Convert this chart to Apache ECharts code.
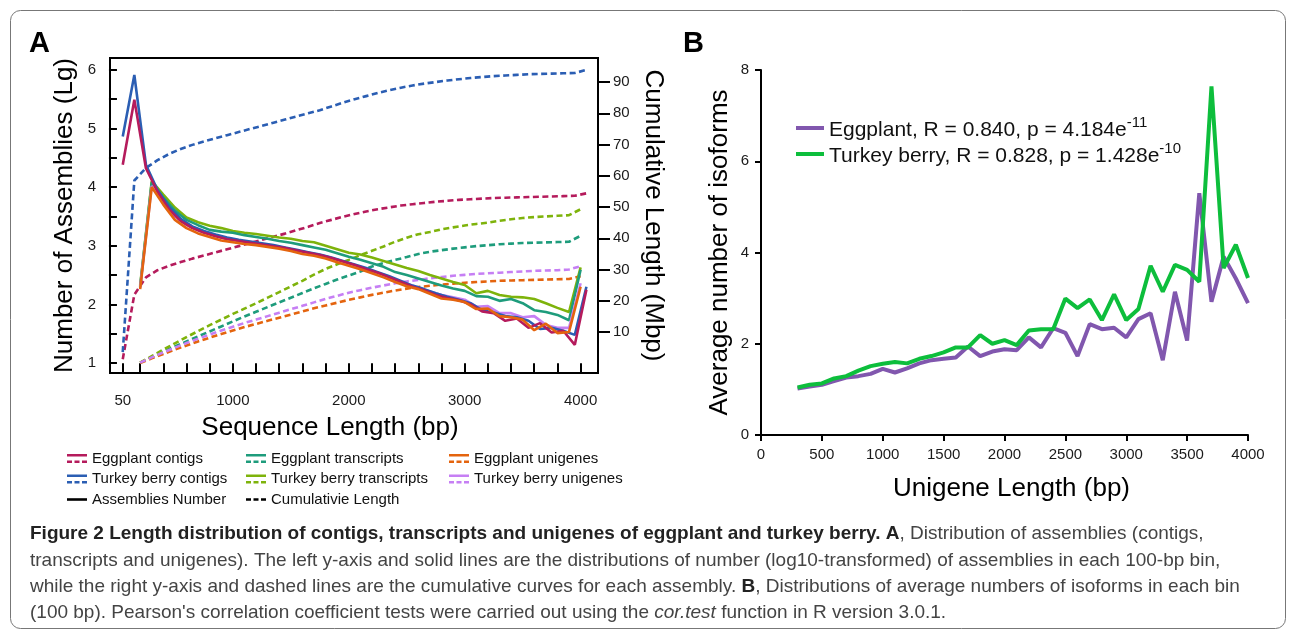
<!DOCTYPE html>
<html><head><meta charset="utf-8">
<script src="https://cdn.jsdelivr.net/npm/echarts@6/dist/echarts.min.js"></script>
<style>html,body{margin:0;padding:0;background:#fff}#c{width:1290px;height:634px}</style>
</head><body><div id="c"></div>
<script>
// ---------- Panel A data ----------
const contigX = [50,150,250,350,450,550,650,750,850,950,1050,1150,1250,1350,1450,1550,1650,1750,1850,1950,2050,2150,2250,2350,2450,2550,2650,2750,2850,2950,3050,3150,3250,3350,3450,3550,3650,3750,3850,3950,4050];
const assemblyX = [200,300,400,500,600,700,800,900,1000,1100,1200,1300,1400,1500,1600,1700,1800,1900,2000,2100,2200,2300,2400,2500,2600,2700,2800,2900,3000,3100,3200,3300,3400,3500,3600,3700,3800,3900,4000];

// log10 number of assemblies per bin (left axis)
const eggContigsN = [4.38,5.49,4.32,3.92,3.62,3.42,3.30,3.22,3.16,3.11,3.08,3.05,3.02,2.99,2.96,2.92,2.88,2.84,2.79,2.73,2.67,2.60,2.54,2.46,2.38,2.30,2.24,2.16,2.11,2.07,2.00,1.88,1.85,1.72,1.76,1.60,1.68,1.52,1.55,1.31,2.25];
const tbContigsN  = [4.86,5.91,4.38,3.95,3.66,3.46,3.33,3.25,3.19,3.14,3.10,3.07,3.04,3.01,2.97,2.93,2.89,2.85,2.80,2.74,2.68,2.62,2.55,2.48,2.40,2.32,2.26,2.19,2.13,2.08,2.02,1.90,1.86,1.80,1.78,1.72,1.58,1.60,1.55,1.48,2.30];
const eggTransN   = [2.30,4.08,3.82,3.60,3.44,3.35,3.27,3.24,3.22,3.18,3.15,3.12,3.08,3.05,3.01,2.97,2.93,2.87,2.81,2.76,2.70,2.64,2.55,2.50,2.44,2.38,2.32,2.27,2.23,2.14,2.13,2.06,2.09,2.02,1.90,1.87,1.82,1.73,2.59];
const tbTransN    = [2.32,4.10,3.87,3.65,3.48,3.40,3.34,3.30,3.25,3.22,3.20,3.17,3.14,3.12,3.08,3.06,3.00,2.94,2.88,2.85,2.80,2.74,2.68,2.62,2.57,2.50,2.44,2.38,2.33,2.19,2.23,2.16,2.13,2.12,2.09,2.02,1.94,1.87,2.63];
const eggUniN     = [2.26,4.00,3.70,3.44,3.30,3.21,3.15,3.09,3.06,3.03,3.01,2.98,2.95,2.91,2.86,2.83,2.78,2.72,2.66,2.60,2.53,2.46,2.38,2.31,2.26,2.18,2.10,2.08,2.04,1.92,1.93,1.80,1.78,1.74,1.56,1.67,1.51,1.53,2.30];
const tbUniN      = [2.28,4.02,3.74,3.50,3.36,3.27,3.21,3.15,3.11,3.07,3.04,3.01,2.98,2.94,2.90,2.86,2.82,2.76,2.70,2.64,2.56,2.51,2.42,2.35,2.28,2.22,2.16,2.12,2.08,1.96,1.97,1.85,1.85,1.78,1.80,1.65,1.60,1.60,2.36];

// cumulative length, Mbp (right axis)
const eggContigsCum = [1.3,22.0,27.5,29.8,31.2,32.4,33.5,34.5,35.5,36.5,37.5,38.5,39.5,40.5,41.5,42.6,43.7,44.9,45.9,46.9,47.8,48.6,49.3,49.9,50.5,50.9,51.3,51.7,52.0,52.3,52.5,52.7,52.9,53.0,53.1,53.2,53.3,53.4,53.5,53.6,54.4];
const tbContigsCum  = [3.6,58.5,62.5,65.0,67.0,68.6,69.9,71.0,72.0,73.0,74.0,75.0,76.0,77.0,78.0,79.0,80.0,81.0,82.2,83.4,84.5,85.5,86.5,87.4,88.2,88.9,89.5,90.0,90.5,90.9,91.3,91.6,91.9,92.1,92.3,92.5,92.6,92.7,92.8,92.9,93.9];
const eggTransCum   = [0.2,2.0,3.7,5.4,7.0,8.6,10.2,11.8,13.4,15.0,16.5,18.0,19.5,21.0,22.5,24.0,25.4,26.8,28.1,29.4,31.0,32.1,33.1,34.0,35.0,35.7,36.2,36.7,37.1,37.5,37.8,38.1,38.3,38.5,38.6,38.7,38.8,38.9,40.8];
const tbTransCum    = [0.2,2.3,4.4,6.4,8.4,10.3,12.2,14.0,15.8,17.5,19.2,21.0,22.8,24.6,26.4,28.4,30.2,31.7,33.1,34.6,36.0,37.4,38.9,40.2,41.3,42.0,42.9,43.5,44.1,44.6,45.0,45.6,46.1,46.5,46.8,47.0,47.2,47.4,49.3];
const eggUniCum     = [0.1,1.6,3.0,4.4,5.7,7.0,8.2,9.4,10.5,11.6,12.6,13.6,14.6,15.6,16.6,17.6,18.5,19.4,20.3,21.1,21.9,22.6,23.3,23.9,24.4,24.8,25.2,25.5,25.8,26.0,26.2,26.4,26.5,26.6,26.7,26.8,26.9,27.0,27.9];
const tbUniCum      = [0.2,1.9,3.5,5.0,6.5,7.9,9.2,10.5,11.7,12.9,14.0,15.1,16.2,17.3,18.4,19.5,20.6,21.6,22.6,23.4,24.2,24.9,25.6,26.2,26.7,27.2,27.6,28.0,28.3,28.6,28.8,29.0,29.2,29.4,29.6,29.7,29.8,30.0,31.1];

const xTicksA  = [50,200,400,600,800,1000,1200,1400,1600,1800,2000,2200,2400,2600,2800,3000,3200,3400,3600,3800,4000];
const xLabelsA = [50,1000,2000,3000,4000];
const yTicksA  = [1,1.5,2,2.5,3,3.5,4,4.5,5,5.5,6];
const yLabelsA = [1,2,3,4,5,6];
const y2LabelsA = [10,20,30,40,50,60,70,80,90];

// ---------- Panel B data ----------
const isoX = [300,400,500,600,700,800,900,1000,1100,1200,1300,1400,1500,1600,1700,1800,1900,2000,2100,2200,2300,2400,2500,2600,2700,2800,2900,3000,3100,3200,3300,3400,3500,3600,3700,3800,3900,4000];
const eggIso = [1.02,1.06,1.10,1.18,1.26,1.29,1.34,1.45,1.37,1.46,1.57,1.64,1.67,1.70,1.94,1.73,1.83,1.88,1.86,2.14,1.92,2.34,2.24,1.73,2.43,2.32,2.35,2.14,2.54,2.67,1.64,3.14,2.07,5.30,2.92,3.91,3.43,2.89];
const tbIso  = [1.04,1.10,1.13,1.24,1.29,1.41,1.51,1.56,1.60,1.57,1.67,1.73,1.81,1.92,1.92,2.19,2.00,2.08,1.97,2.29,2.32,2.32,2.99,2.78,2.97,2.52,3.08,2.52,2.76,3.71,3.14,3.73,3.62,3.36,7.64,3.66,4.17,3.44];
const isoNames = ['Eggplant','Turkey berry'];
const isoR = ['0.840','0.828'];
const isoPBase = ['4.184','1.428'];
const isoPExp = ['-11','-10'];

// ---------- styling ----------
const FONT = "'Liberation Sans', Arial, sans-serif";
const COL = {
  eggContigs:'#B51B5C', tbContigs:'#2B5EB3', eggTrans:'#1E9C7C',
  tbTrans:'#7EB30B', eggUni:'#E4640E', tbUni:'#C67FF4'
};
const pair = (xs, ys) => xs.map((x, i) => [x, ys[i]]);
const plain = v => String(v);

const groupsA = [
  {name:'Eggplant contigs', c:COL.eggContigs, x:contigX, n:eggContigsN, cum:eggContigsCum},
  {name:'Turkey berry contigs', c:COL.tbContigs, x:contigX, n:tbContigsN, cum:tbContigsCum},
  {name:'Eggplant transcripts', c:COL.eggTrans, x:assemblyX, n:eggTransN, cum:eggTransCum},
  {name:'Turkey berry transcripts', c:COL.tbTrans, x:assemblyX, n:tbTransN, cum:tbTransCum},
  {name:'Eggplant unigenes', c:COL.eggUni, x:assemblyX, n:eggUniN, cum:eggUniCum},
  {name:'Turkey berry unigenes', c:COL.tbUni, x:assemblyX, n:tbUniN, cum:tbUniCum}
];
const solidOrder = ['Turkey berry transcripts','Eggplant transcripts','Turkey berry unigenes','Turkey berry contigs','Eggplant contigs','Eggplant unigenes'];

const series = [];
// Dashed cumulative curves (right axis)
groupsA.forEach(g => series.push({
  type:'line', name:g.name, xAxisIndex:0, yAxisIndex:1, data:pair(g.x, g.cum),
  showSymbol:false, symbol:'none', color:g.c, z:2,
  lineStyle:{width:2.6, type:[6,3.5], color:g.c}
}));
// Solid count curves (left axis)
solidOrder.forEach(nm => {
  const g = groupsA.find(d => d.name === nm);
  series.push({
    type:'line', name:g.name, xAxisIndex:0, yAxisIndex:0, data:pair(g.x, g.n),
    showSymbol:false, symbol:'none', color:g.c, z:3,
    lineStyle:{width:2.6, color:g.c}
  });
});
// legend-only keys
series.push({type:'line', name:'Assemblies Number', xAxisIndex:0, yAxisIndex:0, data:[], color:'#000', symbol:'none'});
series.push({type:'line', name:'Cumulativie Length', xAxisIndex:0, yAxisIndex:1, data:[], color:'#000', symbol:'none', lineStyle:{type:'dashed'}});

// Panel B
const isoColors = ['#8157AE','#0DBE3C'];
[eggIso, tbIso].forEach((vals, i) => series.push({
  type:'line', name:isoNames[i], xAxisIndex:1, yAxisIndex:2, data:pair(isoX, vals),
  showSymbol:false, symbol:'none', color:isoColors[i], z:3 + i,
  lineStyle:{width:4, color:isoColors[i]}
}));

const ICON_BOTH = 'path://M0,0H20V2.6H0Z M0,6.4H5V9H0Z M7.5,6.4H12.5V9H7.5Z M15,6.4H20V9H15Z';
const ICON_SOLID = 'path://M0,0M20,9M0,3.2H20V5.8H0Z';
const ICON_DASH = 'path://M0,0M20,9M0,3.2H5V5.8H0Z M7.5,3.2H12.5V5.8H7.5Z M15,3.2H20V5.8H15Z';

const legendA = (left, names) => ({
  orient:'vertical', left:left, top:446, itemWidth:20, itemHeight:9, itemGap:5.5,
  selectedMode:false, itemStyle:{borderWidth:0},
  textStyle:{fontFamily:FONT, fontSize:15, color:'#111'},
  data:names.map(n => ({name:n, icon: n === 'Assemblies Number' ? ICON_SOLID : (n === 'Cumulativie Length' ? ICON_DASH : ICON_BOTH)}))
});

const axisTxt = {fontFamily:FONT, fontSize:15, color:'#1a1a1a'};
const nameTxt = {fontFamily:FONT, fontSize:26, color:'#000'};

const caption = [
  '{b|Figure 2 Length distribution of contigs, transcripts and unigenes of eggplant and turkey berry. A}{r|, Distribution of assemblies (contigs,}',
  '{r|transcripts and unigenes). The left y-axis and solid lines are the distributions of number (log10-transformed) of assemblies in each 100-bp bin,}',
  '{r|while the right y-axis and dashed lines are the cumulative curves for each assembly. }{b|B}{r|, Distributions of average numbers of isoforms in each bin}',
  "{r|(100 bp). Pearson's correlation coefficient tests were carried out using the }{i|cor.test}{r| function in R version 3.0.1.}"
];
const CAPFONT = "'Liberation Sans', sans-serif";
const capRich = {
  b:{fontFamily:CAPFONT, fontSize:19, fontWeight:'bold', fill:'#222', color:'#222'},
  r:{fontFamily:CAPFONT, fontSize:19, fill:'#444', color:'#444'},
  i:{fontFamily:CAPFONT, fontSize:19, fontStyle:'italic', fill:'#444', color:'#444'}
};

const option = {
  animation:false,
  backgroundColor:'#fff',
  textStyle:{fontFamily:FONT},
  grid:[
    {left:110, top:58, width:488, height:315, show:true, borderColor:'#000', borderWidth:2, backgroundColor:'transparent'},
    {left:761, top:70, width:487, height:365}
  ],
  xAxis:[
    {gridIndex:0, type:'value', min:-60, max:4150,
     axisLine:{show:false}, splitLine:{show:false},
     axisTick:{show:true, customValues:xTicksA, length:9, lineStyle:{color:'#000', width:2}},
     axisLabel:{customValues:xLabelsA, margin:20, formatter:plain, ...axisTxt},
     name:'Sequence Length (bp)', nameLocation:'middle', nameGap:42,
     nameTextStyle:{...nameTxt, padding:[0,48,0,0]}},
    {gridIndex:1, type:'value', min:0, max:4000, interval:500,
     axisLine:{show:true, lineStyle:{color:'#000', width:2}}, splitLine:{show:false},
     axisTick:{show:true, length:6, lineStyle:{color:'#000', width:2}},
     axisLabel:{margin:12, formatter:plain, ...axisTxt},
     name:'Unigene Length (bp)', nameLocation:'middle', nameGap:41,
     nameTextStyle:{...nameTxt, padding:[0,0,0,14]}}
  ],
  yAxis:[
    {gridIndex:0, type:'value', min:0.83, max:6.2, position:'left',
     axisLine:{show:false}, splitLine:{show:false},
     axisTick:{show:true, customValues:yTicksA, length:8, lineStyle:{color:'#000', width:2}},
     axisLabel:{customValues:yLabelsA, margin:14, formatter:plain, ...axisTxt},
     name:'Number of Assemblies (Lg)', nameLocation:'middle', nameGap:32, nameRotate:90,
     nameTextStyle:nameTxt},
    {gridIndex:0, type:'value', min:-3.1, max:97.7, position:'right',
     axisLine:{show:false}, splitLine:{show:false},
     axisTick:{show:true, customValues:y2LabelsA, length:12, lineStyle:{color:'#000', width:2}},
     axisLabel:{customValues:y2LabelsA, margin:15, formatter:plain, ...axisTxt},
     name:'Cumulative Length (Mbp)', nameLocation:'middle', nameGap:42, nameRotate:-90,
     nameTextStyle:nameTxt},
    {gridIndex:1, type:'value', min:0, max:8, interval:2,
     axisLine:{show:true, lineStyle:{color:'#000', width:2}}, splitLine:{show:false},
     axisTick:{show:true, length:6, lineStyle:{color:'#000', width:2}},
     axisLabel:{margin:12, formatter:plain, ...axisTxt},
     name:'Average number of isoforms', nameLocation:'middle', nameGap:28, nameRotate:90,
     nameTextStyle:nameTxt}
  ],
  legend:[
    legendA(62, ['Eggplant contigs','Turkey berry contigs','Assemblies Number']),
    legendA(241, ['Eggplant transcripts','Turkey berry transcripts','Cumulativie Length']),
    legendA(444, ['Eggplant unigenes','Turkey berry unigenes']),
    {orient:'vertical', left:791, top:110, itemWidth:28, itemHeight:4, itemGap:0, icon:'rect',
     selectedMode:false, itemStyle:{borderWidth:0},
     data:isoNames,
     formatter: name => {
       const i = isoNames.indexOf(name);
       return '{m|' + name + ', R = ' + isoR[i] + ', p = ' + isoPBase[i] + 'e}{s|' + isoPExp[i] + '}';
     },
     textStyle:{fontFamily:FONT, fontSize:21, color:'#111',
       rich:{m:{fontFamily:FONT, fontSize:21, color:'#111', lineHeight:26, verticalAlign:'bottom'},
             s:{fontFamily:FONT, fontSize:15, color:'#111', lineHeight:13, verticalAlign:'top'}}}}
  ],
  graphic:[
    {type:'rect', left:8, top:8, shape:{width:1275, height:618, r:10}, style:{fill:'none', stroke:'#777', lineWidth:1}, silent:true},
    {type:'text', x:29, y:29, style:{text:'A', font:"bold 29px 'Liberation Sans', Arial, sans-serif", fill:'#000'}},
    {type:'text', x:683, y:29, style:{text:'B', font:"bold 29px 'Liberation Sans', Arial, sans-serif", fill:'#000'}}
  ].concat(caption.map((t, i) => ({
    type:'text', x:30, y:534 + i * 26.3,
    style:{text:t, rich:capRich, verticalAlign:'middle', align:'left'}
  }))),
  series:series
};

const chart = echarts.init(document.getElementById('c'), null, {renderer:'canvas'});
chart.setOption(option);
</script></body></html>
